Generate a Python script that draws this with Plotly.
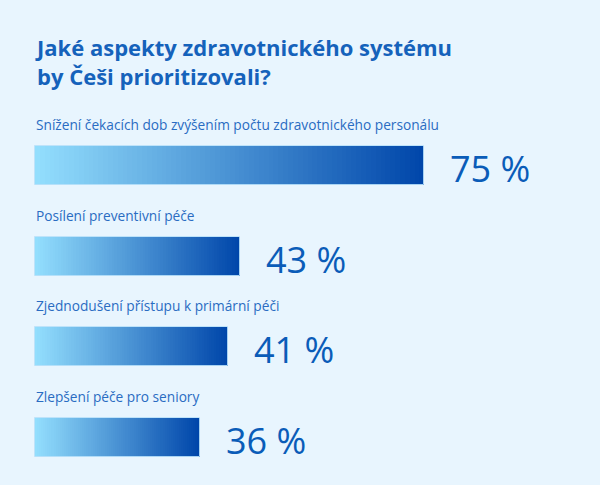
import plotly.graph_objects as go

# ---- data ----
categories = [
    "Snížení čekacích dob zvýšením počtu zdravotnického personálu",
    "Posílení preventivní péče",
    "Zjednodušení přístupu k primární péči",
    "Zlepšení péče pro seniory",
]
values = [75, 43, 41, 36]
value_labels = ["75 %", "43 %", "41 %", "36 %"]
title_text = "Jaké aspekty zdravotnického systému<br>by Češi prioritizovali?"

# ---- style / layout constants ----
W, H = 600, 485
BG = "#e8f5fe"
LIGHT = (0x93, 0xde, 0xfd)
DARK = (0x00, 0x46, 0xaa)
TITLE_COLOR = "#1562bb"
LABEL_COLOR = "#2a6cc2"
VALUE_COLOR = "#0a5cb8"
FONT = "Open Sans"
N_SEG = 80

AXIS_START = 7.45          # value at the bars' left edge
PX_PER_UNIT = 5.763        # x scale
LEFT_PX = 35
x_range = [AXIS_START - LEFT_PX / PX_PER_UNIT, AXIS_START + (W - LEFT_PX) / PX_PER_UNIT]

ROW_PX = 90.5
FIRST_CENTER_PX = 165.5
y_range = [3 + (H - (FIRST_CENTER_PX + 3 * ROW_PX)) / ROW_PX, -FIRST_CENTER_PX / ROW_PX]
BAR_W = 39 / ROW_PX

ypos = list(range(len(categories)))


def lerp_color(t):
    r = round(LIGHT[0] + (DARK[0] - LIGHT[0]) * t)
    g = round(LIGHT[1] + (DARK[1] - LIGHT[1]) * t)
    b = round(LIGHT[2] + (DARK[2] - LIGHT[2]) * t)
    return f"rgb({r},{g},{b})"


fig = go.Figure()

# gradient bars: overlapping segments, each running from its start to the bar end
for i in range(N_SEG):
    t = i / (N_SEG - 1)
    bases = [AXIS_START + (v - AXIS_START) * i / N_SEG for v in values]
    lengths = [v - b for v, b in zip(values, bases)]
    fig.add_trace(go.Bar(
        x=lengths, y=ypos, base=bases, orientation="h", width=BAR_W,
        marker=dict(color=lerp_color(t), line=dict(width=0)),
        hoverinfo="skip", showlegend=False,
    ))

# thin light outline
fig.add_trace(go.Bar(
    x=[v - AXIS_START for v in values], y=ypos, base=[AXIS_START] * len(values),
    orientation="h", width=BAR_W,
    marker=dict(color="rgba(0,0,0,0)", line=dict(width=1, color="rgba(185,225,250,0.9)")),
    hoverinfo="skip", showlegend=False,
))

annotations = []
for yi, cat, v, lab in zip(ypos, categories, values, value_labels):
    annotations.append(dict(
        x=AXIS_START, y=yi, xref="x", yref="y", text=cat, showarrow=False,
        xanchor="left", yanchor="middle", yshift=41, xshift=-1,
        font=dict(family=FONT, size=13.7, color=LABEL_COLOR),
    ))
    annotations.append(dict(
        x=v, y=yi, xref="x", yref="y", text=lab, showarrow=False,
        xanchor="left", yanchor="middle", xshift=24, yshift=-3,
        font=dict(family=FONT, size=36, color=VALUE_COLOR),
    ))

annotations.append(dict(
    x=LEFT_PX / W, y=1 - 61 / H, xref="paper", yref="paper",
    text=f"<b>{title_text}</b>", showarrow=False, xanchor="left", yanchor="middle",
    align="left", xshift=-2,
    font=dict(family=FONT, size=22, color=TITLE_COLOR),
))

fig.update_layout(
    width=W, height=H,
    margin=dict(l=0, r=0, t=0, b=0),
    paper_bgcolor=BG, plot_bgcolor=BG,
    barmode="overlay", bargap=0,
    xaxis=dict(range=x_range, visible=False, fixedrange=True),
    yaxis=dict(range=y_range, visible=False, fixedrange=True),
    annotations=annotations,
    showlegend=False,
)

fig.write_html(
    "out.html",
    config={"displayModeBar": False},
    post_script="document.body.style.margin='0';document.body.style.overflow='hidden';",
)
